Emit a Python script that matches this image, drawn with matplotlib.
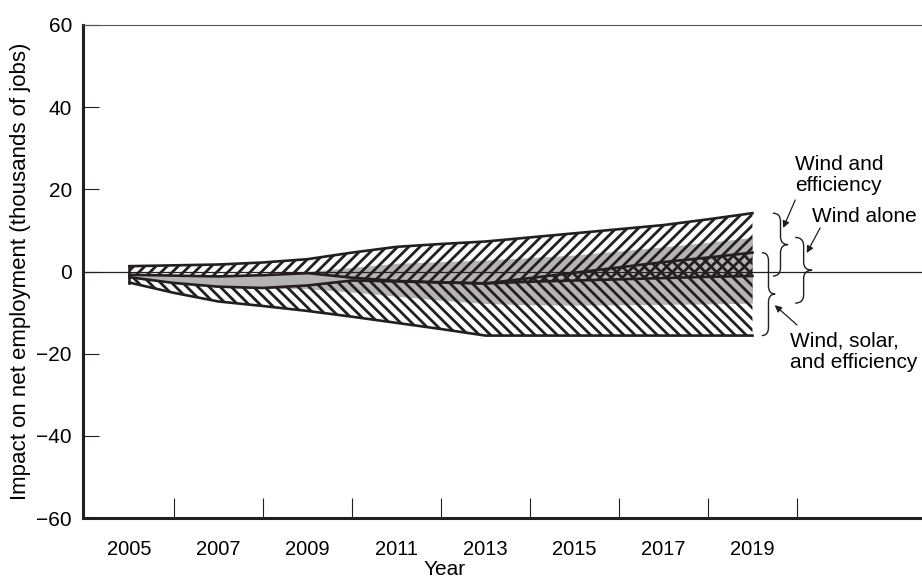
import matplotlib
matplotlib.use('Agg')
from matplotlib import pyplot as plt
from matplotlib.path import Path
from matplotlib.patches import PathPatch

# values (thousands of jobs)
years = list(range(2005, 2020))
wind_eff_upper = [1.3, 1.5, 1.7, 2.2, 3.0, 4.6, 6.0, 6.7, 7.3, 8.3, 9.3, 10.3, 11.3, 12.7, 14.2]
wind_eff_lower = [-0.8, -1.0, -1.2, -0.9, -0.4, -1.5, -2.3, -2.6, -2.9, -2.5, -2.2, -1.9, -1.6, -1.3, -1.1]
wind_solar_eff_upper = [-1.4, -2.8, -3.7, -4.0, -3.4, -2.2, -2.4, -2.7, -2.9, -1.6, -0.3, 1.0, 2.3, 3.4, 4.6]
wind_solar_eff_lower = [-2.7, -5.2, -7.3, -8.4, -9.6, -11.0, -12.5, -14.0, -15.6, -15.6, -15.6, -15.6, -15.6, -15.6, -15.6]
wind_alone_upper = [-0.9, -1.0, -1.2, -0.8, 0.0, 1.0, 2.0, 2.4, 2.8, 3.4, 4.0, 5.0, 6.0, 7.1, 8.3]
wind_alone_lower = [-1.3, -2.7, -3.8, -4.1, -4.2, -5.0, -6.0, -7.0, -7.8, -8.1, -8.2, -8.1, -8.0, -7.9, -7.7]

label_years = [2005, 2007, 2009, 2011, 2013, 2015, 2017, 2019]
mark_years = [2006, 2008, 2010, 2012, 2014, 2016, 2018, 2020]
y_ticks = [-60, -40, -20, 0, 20, 40, 60]

LINE = '#231f20'
GRAY = '#b4b4b4'
FS = 15

plt.rcParams['font.family'] = ['Liberation Sans', 'DejaVu Sans']
plt.rcParams['hatch.linewidth'] = 2.0
plt.rcParams['hatch.color'] = LINE


def draw_brace(ax, x, y_top, y_bottom, width, curl=2.0):
    # right-pointing curly brace from y_top down to y_bottom
    mid = (y_top + y_bottom) / 2
    xm = x + width / 2
    verts = [(x, y_top), (xm, y_top), (xm, y_top - curl),
             (xm, mid + curl),
             (xm, mid), (x + width, mid),
             (xm, mid), (xm, mid - curl),
             (xm, y_bottom + curl),
             (xm, y_bottom), (x, y_bottom)]
    codes = [Path.MOVETO, Path.CURVE3, Path.CURVE3, Path.LINETO,
             Path.CURVE3, Path.CURVE3, Path.CURVE3, Path.CURVE3,
             Path.LINETO, Path.CURVE3, Path.CURVE3]
    ax.add_patch(PathPatch(Path(verts, codes), fc='none', ec=LINE, lw=1.0,
                           clip_on=False, zorder=6))


fig = plt.figure(figsize=(9.22, 5.8), dpi=100)
ax = fig.add_axes([83 / 922, 62 / 580, 839 / 922, 493 / 580])

ax.fill_between(years, wind_alone_lower, wind_alone_upper, color=GRAY, lw=0, zorder=1)
ax.fill_between(years, wind_eff_lower, wind_eff_upper, facecolor='none',
                edgecolor=LINE, hatch='///', lw=0, zorder=2)
ax.fill_between(years, wind_solar_eff_lower, wind_solar_eff_upper, facecolor='none',
                edgecolor=LINE, hatch='\\\\\\', lw=0, zorder=2)

for series in [wind_eff_upper, wind_eff_lower, wind_solar_eff_upper, wind_solar_eff_lower]:
    ax.plot(years, series, color=LINE, lw=1.9, zorder=4)
ax.plot([years[0], years[0]], [wind_eff_upper[0], wind_eff_lower[0]], color=LINE, lw=1.9, zorder=4)
ax.plot([years[0], years[0]], [wind_solar_eff_upper[0], wind_solar_eff_lower[0]], color=LINE, lw=1.9, zorder=4)

ax.axhline(0, color=LINE, lw=0.9, zorder=5)

# braces and labels on the right
draw_brace(ax, 2019.46, wind_eff_upper[-1], wind_eff_lower[-1], 0.34)
draw_brace(ax, 2019.96, wind_alone_upper[-1], wind_alone_lower[-1], 0.38)
draw_brace(ax, 2019.21, wind_solar_eff_upper[-1], wind_solar_eff_lower[-1], 0.30)

arrow = dict(arrowstyle='-|>', color=LINE, lw=0.9, mutation_scale=10, shrinkA=0, shrinkB=0)
ax.annotate('', xy=(2019.69, 10.6), xytext=(2019.96, 17.4), arrowprops=arrow)
ax.annotate('', xy=(2020.22, 4.5), xytext=(2020.52, 10.6), arrowprops=arrow)
ax.annotate('', xy=(2019.5, -8.2), xytext=(2020.0, -13.0), arrowprops=arrow)

ax.text(2019.96, 28.4, 'Wind and\nefficiency', fontsize=FS, ha='left', va='top', linespacing=1.15)
ax.text(2020.34, 13.3, 'Wind alone', fontsize=FS, ha='left', va='center')
ax.text(2019.84, -14.6, 'Wind, solar,\nand efficiency', fontsize=FS, ha='left', va='top', linespacing=1.15)

ax.set_xlim(2003.955, 2022.81)
ax.set_ylim(-60, 60)

ax.set_xticks(label_years)
ax.set_xticklabels([str(y) for y in label_years])
ax.set_xticks(mark_years, minor=True)
ax.tick_params(axis='x', which='major', length=0, pad=16, labelsize=14.5)
ax.tick_params(axis='x', which='minor', direction='in', length=14.5, width=0.8, color=LINE)
ax.set_yticks(y_ticks)
ax.tick_params(axis='y', direction='in', length=11.5, width=0.8, color=LINE, pad=8, labelsize=FS)

ax.spines['left'].set_linewidth(2.2)
ax.spines['bottom'].set_linewidth(2.2)
ax.spines['left'].set_color(LINE)
ax.spines['bottom'].set_color(LINE)
ax.spines['top'].set_linewidth(0.8)
ax.spines['top'].set_color('#555555')
ax.spines['right'].set_visible(False)

ax.set_xlabel('Year', fontsize=FS)
ax.xaxis.set_label_coords(0.431, -0.086)
ax.set_ylabel('Impact on net employment (thousands of jobs)', fontsize=16)
ax.yaxis.set_label_coords(-0.062, 0.5)

fig.savefig('out.png', dpi=100)
